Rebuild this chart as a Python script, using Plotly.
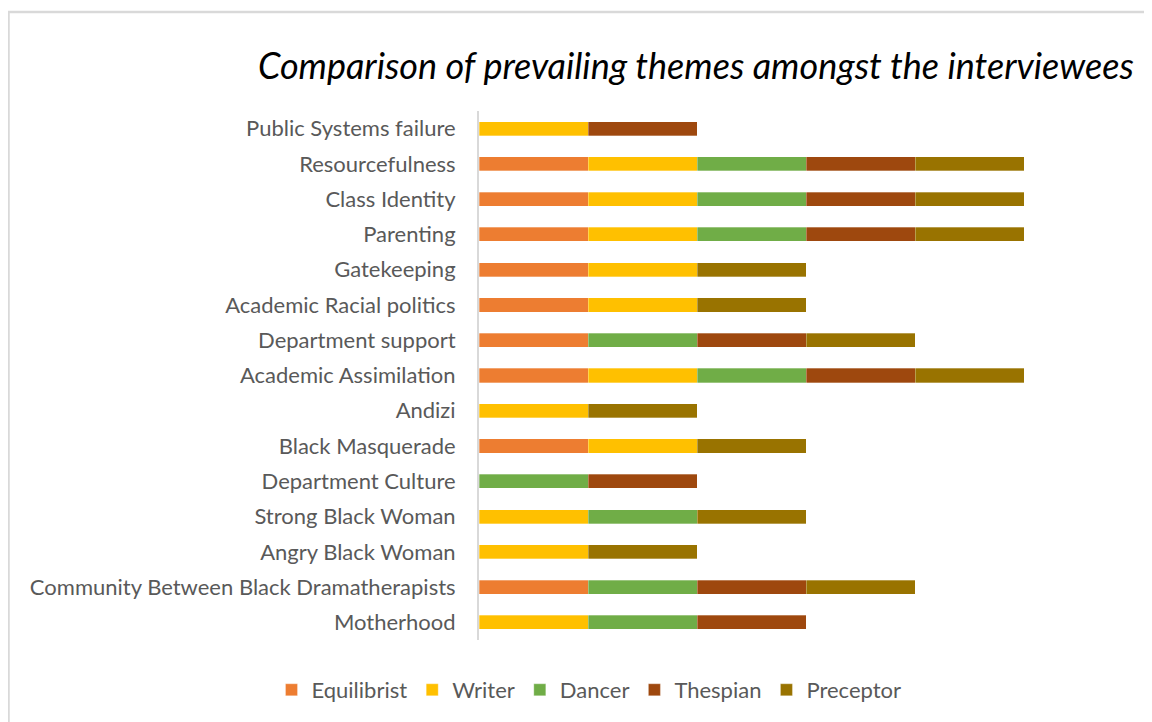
import plotly.graph_objects as go

categories = ["Public Systems failure", "Resourcefulness", "Class Identity", "Parenting",
              "Gatekeeping", "Academic Racial politics", "Department support",
              "Academic Assimilation", "Andizi", "Black Masquerade", "Department Culture",
              "Strong Black Woman", "Angry Black Woman",
              "Community Between Black Dramatherapists", "Motherhood"]

series_names = ["Equilibrist", "Writer", "Dancer", "Thespian", "Preceptor"]
equilibrist = [0, 1, 1, 1, 1, 1, 1, 1, 0, 1, 0, 0, 0, 1, 0]
writer      = [1, 1, 1, 1, 1, 1, 0, 1, 1, 1, 0, 1, 1, 0, 1]
dancer      = [0, 1, 1, 1, 0, 0, 1, 1, 0, 0, 1, 1, 0, 1, 1]
thespian    = [1, 1, 1, 1, 0, 0, 1, 1, 0, 0, 1, 0, 0, 1, 1]
preceptor   = [0, 1, 1, 1, 1, 1, 1, 1, 1, 1, 0, 1, 1, 1, 0]
values = [equilibrist, writer, dancer, thespian, preceptor]
colors = ["#ED7D31", "#FFC000", "#70AD47", "#9E480E", "#997300"]

title_text = "Comparison of prevailing themes amongst the interviewees"

fig = go.Figure()
for name, vals, col in zip(series_names, values, colors):
    fig.add_trace(go.Bar(
        y=categories, x=vals, name=name, orientation="h",
        marker=dict(color=col, line=dict(color="rgba(255,255,255,0.6)", width=0.5)),
        hoverinfo="x+y+name",
    ))

# The page adds an 8px body margin, so figure pixels = screen pixels - 8
W, H = 1152, 722
L, R, T, B = 471, 27, 103, 90
pw, ph = W - L - R, H - T - B

def px2x(px):
    return (px - L) / pw

def py2y(py):
    return (H - B - py) / ph

fx0, fx1 = px2x(0.5), px2x(1300)
fy_top, fy_bot = py2y(4), py2y(800)
frame_path = f"M {fx1},{fy_top} L {fx0},{fy_top} L {fx0},{fy_bot}"

fig.update_layout(
    width=W, height=H,
    barmode="stack", bargap=0.6,
    margin=dict(l=L, r=R, t=T, b=B),
    paper_bgcolor="white", plot_bgcolor="white",
    font=dict(family="Lato, 'Open Sans', sans-serif", color="#595959"),
    title=dict(text=title_text, x=250 / W, xanchor="left", xref="container",
               y=1 - 58 / H, yanchor="middle", yref="container",
               font=dict(family="Lato, 'Open Sans', sans-serif", size=36, color="#000000", style="italic")),
    xaxis=dict(range=[0, 6], visible=False, showgrid=False, zeroline=False, fixedrange=True),
    yaxis=dict(autorange="reversed", showline=True, linecolor="#d9d9d9", linewidth=2,
               ticks="", ticklabelstandoff=17, tickfont=dict(size=22, color="#595959"),
               showgrid=False, zeroline=False),
    legend=dict(orientation="h", x=581 / W, xref="container", xanchor="center",
                y=1 - 682 / H, yref="container", yanchor="middle",
                font=dict(size=22, color="#595959"), traceorder="normal",
                itemwidth=30),
    shapes=[dict(type="path", xref="paper", yref="paper", path=frame_path,
                 line=dict(color="#d9d9d9", width=2.5), layer="below")],
    showlegend=True,
)

fig.write_html("out.html")
